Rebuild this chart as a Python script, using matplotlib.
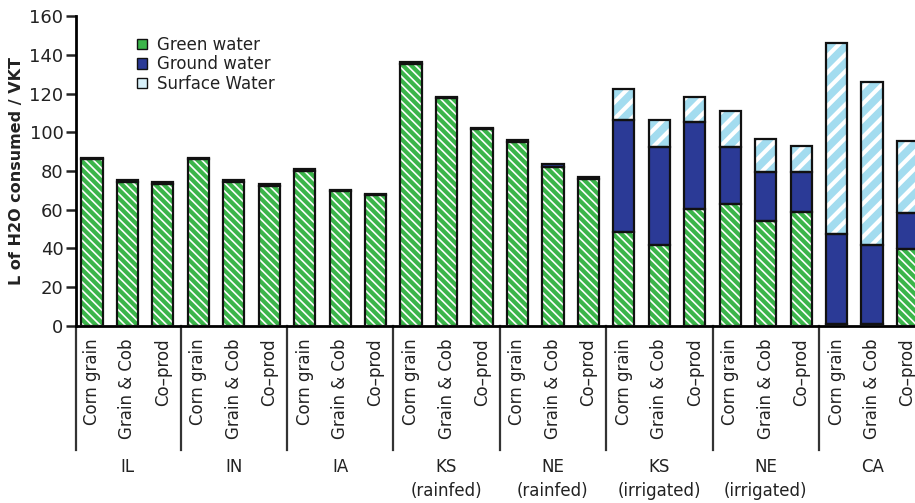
import matplotlib
matplotlib.use("Agg")
import matplotlib.pyplot as plt
import matplotlib.transforms as mtransforms
from matplotlib.patches import Patch
import numpy as np

plt.rcParams['font.family'] = ['DejaVu Sans']

regions = ["IL", "IN", "IA", "KS\n(rainfed)", "NE\n(rainfed)",
           "KS\n(irrigated)", "NE\n(irrigated)", "CA"]
products = ["Corn grain", "Grain & Cob", "Co\u2013prod"]

# water consumption per stack component, L per VKT, one value per bar
green_water = [86, 74.5, 73.5, 86, 74.5, 72.5, 80, 69.5, 67.5,
               135.5, 117.5, 101.5, 95, 82, 76,
               48.4, 41.8, 60.4, 62.8, 54.2, 59, 1, 1, 39.6]
ground_water = [0.8, 0.8, 0.8, 0.8, 0.8, 0.8, 0.8, 0.8, 0.8,
                0.8, 0.8, 0.8, 0.8, 1.5, 0.8,
                57.9, 50.4, 45.1, 29.4, 25.5, 20.7, 46.3, 40.8, 18.6]
surface_water = [0, 0, 0, 0, 0, 0, 0, 0, 0,
                 0, 0, 0, 0, 0, 0,
                 15.9, 14.1, 12.9, 18.8, 17, 13, 98.6, 84, 37.3]

green_c = '#3bb54a'
ground_c = '#2b3a96'
surface_c = '#a3dcef'
text_c = '#222222'

x = np.arange(len(green_water))
green = np.array(green_water)
ground = np.array(ground_water)
surface = np.array(surface_water)
w = 0.6

fig = plt.figure(figsize=(9.15, 5.03), dpi=100)
ax = fig.add_axes([0.083, 0.352, 0.917, 0.616])

def stacked(xs, vals, bottom, face, hatch=None, hatch_lw=1.0):
    # fill + white stripes first, then a black outline on top
    plt.rcParams['hatch.linewidth'] = hatch_lw
    ax.bar(xs, vals, w, bottom=bottom, color=face, hatch=hatch,
           edgecolor='white', linewidth=0, zorder=2)
    ax.bar(xs, vals, w, bottom=bottom, fill=False,
           edgecolor='#111111', linewidth=1.6, zorder=3)

stacked(x, green, 0, green_c, '\\\\\\\\', 1.2)
stacked(x, ground, green, ground_c)
keep = surface > 0
stacked(x[keep], surface[keep], (green + ground)[keep], surface_c, '//', 3.0)

ax.set_ylim(0, 160)
ax.set_xlim(-0.45, 23.21)
ax.set_yticks(range(0, 161, 20))
ax.tick_params(axis='y', direction='out', length=7, width=1.8,
               labelsize=13, colors=text_c, pad=2)
ax.set_xticks(x)
ax.set_xticklabels(products * len(regions), rotation=90, fontsize=12,
                   color=text_c)
ax.tick_params(axis='x', length=0, pad=9)
for s in ['top', 'right']:
    ax.spines[s].set_visible(False)
ax.spines['left'].set_linewidth(2)
ax.spines['bottom'].set_linewidth(2)
ax.set_ylabel("L of H2O consumed / VKT", fontsize=11.5, fontweight='bold',
              color=text_c, labelpad=4)

# group separators and region names under the product labels
trans = mtransforms.blended_transform_factory(ax.transData, ax.transAxes)
for k in range(len(regions)):
    xs = -0.45 if k == 0 else 3 * k - 0.5
    ax.plot([xs, xs], [0, -0.40], transform=trans, color='#333333',
            linewidth=1.6, clip_on=False)
    ax.text(3 * k + 1, -0.425, regions[k], transform=trans, ha='center',
            va='top', fontsize=12, color=text_c, linespacing=1.45)

handles = [Patch(facecolor=green_c, edgecolor='#111111'),
           Patch(facecolor=ground_c, edgecolor='#111111'),
           Patch(facecolor='#d8f1fa', edgecolor='#111111')]
ax.legend(handles, ["Green water", "Ground water", "Surface Water"],
          loc='upper left', bbox_to_anchor=(0.055, 0.985), frameon=False,
          fontsize=12, handlelength=0.6, handleheight=0.6, handletextpad=0.6,
          labelspacing=0.1, labelcolor=text_c)

fig.savefig("out.png", dpi=100)
